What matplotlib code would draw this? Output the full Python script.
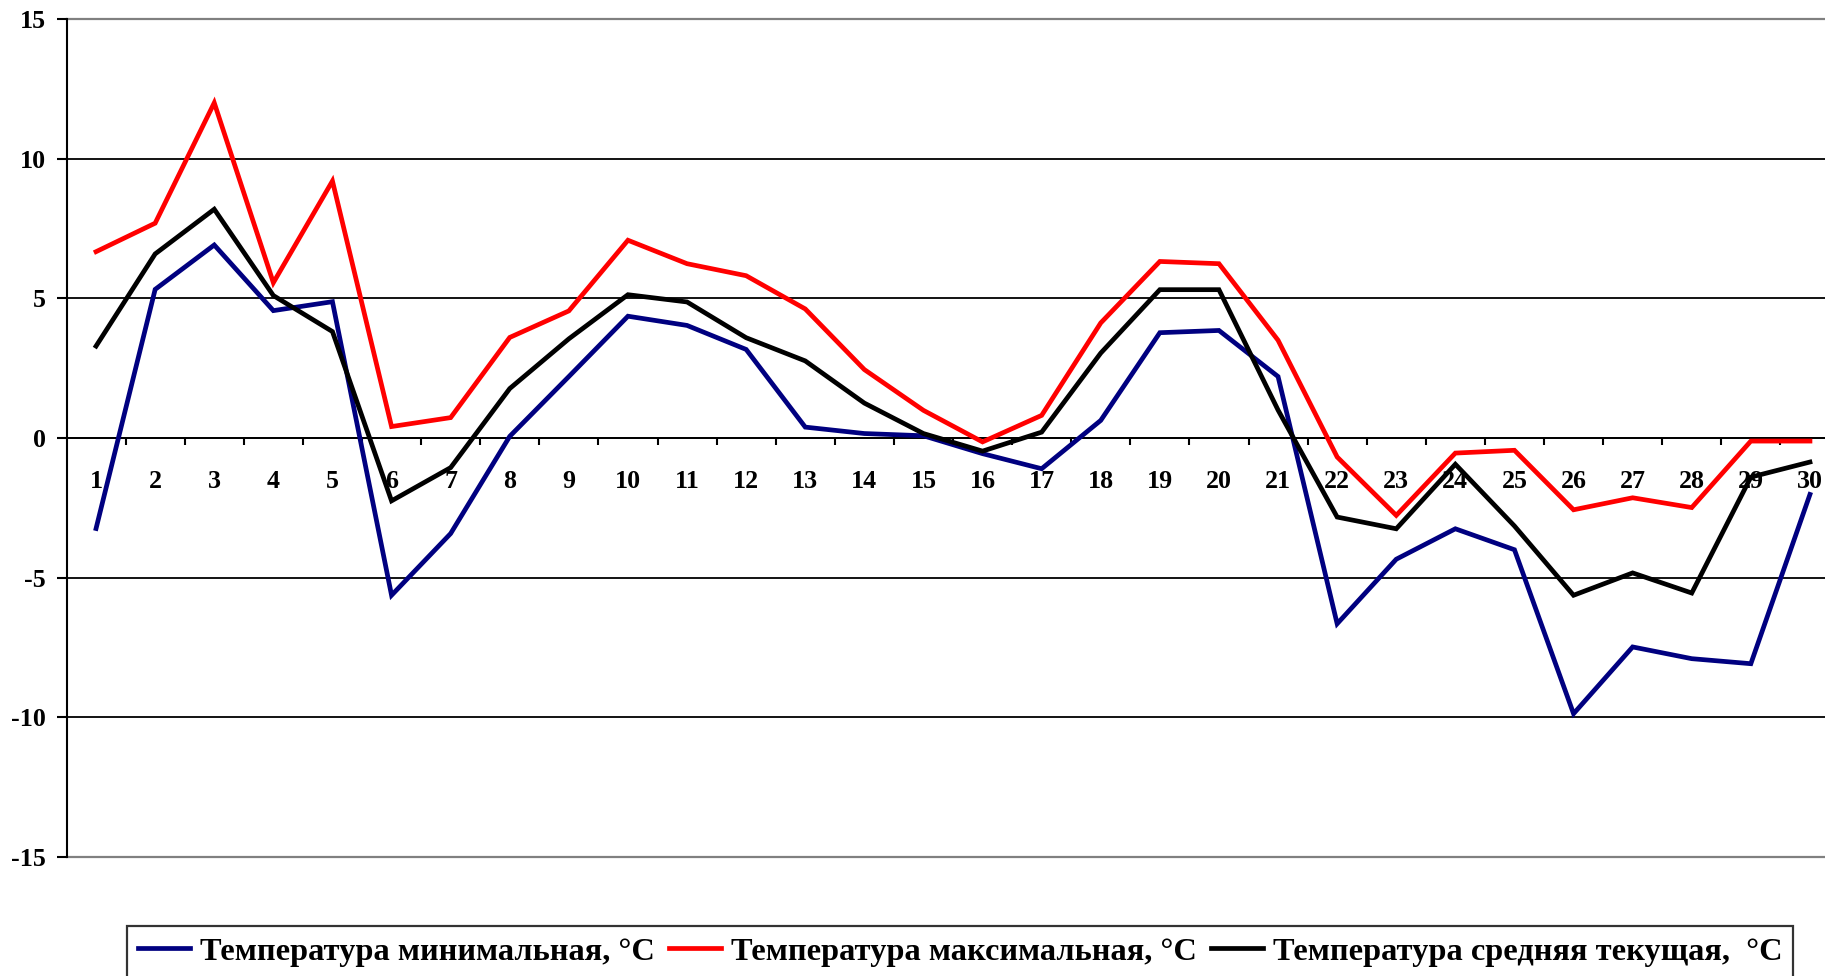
import matplotlib
matplotlib.use("Agg")
import matplotlib.pyplot as plt
from matplotlib.ticker import FixedLocator

plt.rcParams["font.family"] = ["Liberation Serif", "DejaVu Serif"]
plt.rcParams["font.weight"] = "bold"
plt.rcParams["axes.unicode_minus"] = False

# ----------------------------
# data
# ----------------------------
days = list(range(1, 31))

t_min = [-3.24, 5.32, 6.91, 4.56, 4.88, -5.63, -3.42, 0.06, 2.2, 4.36,
         4.03, 3.17, 0.39, 0.16, 0.08, -0.56, -1.10, 0.63, 3.77, 3.85,
         2.2, -6.65, -4.34, -3.25, -4.0, -9.87, -7.48, -7.90, -8.08, -2.02]

t_max = [6.67, 7.69, 12.0, 5.56, 9.2, 0.41, 0.73, 3.6, 4.55, 7.08,
         6.24, 5.81, 4.62, 2.45, 0.99, -0.14, 0.81, 4.12, 6.32, 6.24,
         3.5, -0.68, -2.77, -0.54, -0.44, -2.57, -2.14, -2.49, -0.11, -0.11]

t_mean = [3.29, 6.59, 8.19, 5.1, 3.81, -2.25, -1.06, 1.77, 3.55, 5.13,
          4.87, 3.59, 2.76, 1.25, 0.16, -0.47, 0.21, 3.04, 5.31, 5.31,
          1.0, -2.83, -3.25, -0.94, -3.15, -5.63, -4.83, -5.55, -1.40, -0.86]

labels = ["Температура минимальная, °C",
          "Температура максимальная, °C",
          "Температура средняя текущая,  °C"]
colors = ["#000080", "#FF0000", "#000000"]

y_ticks = [-15, -10, -5, 0, 5, 10, 15]

# ----------------------------
# figure
# ----------------------------
W, H = 1825, 976
fig = plt.figure(figsize=(W / 100, H / 100), dpi=100)
# plot area runs past the right edge of the picture (cropped like the original)
ax = fig.add_axes([66.5 / W, (H - 857) / H, 30 * 59.1 / W, (857 - 19) / H])

handles = []
for ys, c, lab in zip([t_min, t_max, t_mean], colors, labels):
    h, = ax.plot(days, ys, color=c, lw=3.4, solid_joinstyle="miter", label=lab, zorder=3)
    handles.append(h)

ax.set_xlim(0.5, 30.5)
ax.set_ylim(-15, 15)

# grid + border
for y in [-10, -5, 0, 5, 10]:
    ax.axhline(y, color="black", lw=1.3, zorder=1)
for y in [-15, 15]:
    ax.axhline(y, color="#808080", lw=1.6, zorder=1, clip_on=False)

for s in ["top", "right"]:
    ax.spines[s].set_visible(False)
ax.spines["left"].set_linewidth(1.5)
ax.spines["bottom"].set_position(("data", 0))
ax.spines["bottom"].set_linewidth(1.3)

ax.set_yticks(y_ticks)
ax.tick_params(axis="y", direction="out", length=7, width=1.5, pad=8, labelsize=18.7)

# day labels centred on points, tick marks between days
ax.set_xticks(days)
ax.set_xticklabels([str(d) for d in days])
ax.xaxis.set_minor_locator(FixedLocator([d + 0.5 for d in days[:-1]]))
ax.tick_params(axis="x", which="major", length=0, pad=23, labelsize=18.7)
ax.tick_params(axis="x", which="minor", direction="out", length=5, width=1.5)

leg_fs = 23.3
fs_px = leg_fs * 100 / 72
leg = fig.legend(handles=handles, loc="upper left",
                 bbox_to_anchor=(127 / W, 1 - 926 / H), ncol=3,
                 fontsize=leg_fs, frameon=True, fancybox=False,
                 borderaxespad=0, borderpad=11 / fs_px, handlelength=52 / fs_px,
                 handletextpad=10 / fs_px, columnspacing=14 / fs_px)
leg.get_frame().set_edgecolor("black")
leg.get_frame().set_linewidth(1.6)
for t in leg.get_texts():
    t.set_fontweight("bold")

fig.savefig("out.png", dpi=100)
